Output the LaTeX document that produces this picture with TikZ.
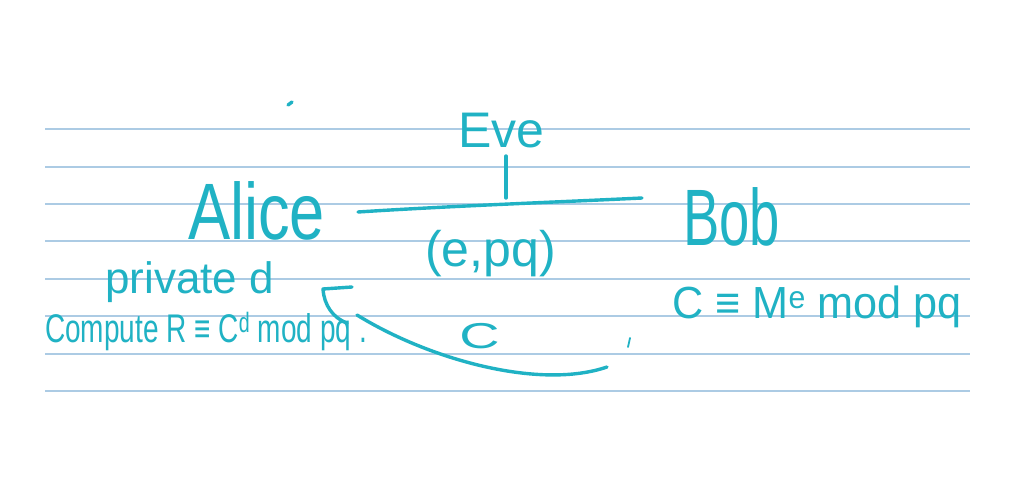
\documentclass[tikz,border=0pt]{standalone}
\usepackage{fontspec}
\setmainfont{Liberation Sans}
\definecolor{ink}{RGB}{32,178,196}
\definecolor{rule}{RGB}{172,203,228}
\begin{document}
\begin{tikzpicture}[x=1pt,y=-1pt,
  ruleline/.style={draw=rule,line width=1.3pt},
  pen/.style={draw=ink,line width=3.4pt,line cap=round,line join=round},
  txt/.style={text=ink,inner sep=0pt,anchor=base west}]
\useasboundingbox (0,0) rectangle (1013,492);
\fill[white] (0,0) rectangle (1013,492);
% ruled paper
\foreach \y in {129,167,204,241,279,316,354,391}
  \draw[ruleline] (45,\y) -- (970,\y);
% stray dot
\draw[pen] (288,105) -- (292,102);
% names
\node[txt,font=\fontsize{50}{60}\selectfont] (eve) at (458,148) {Eve};
\node[txt,font=\fontsize{80}{96}\selectfont,xscale=0.79] (alice) at (188,240) {Alice};
\node[txt,font=\fontsize{80}{96}\selectfont,xscale=0.68] (bob) at (683,245) {Bob};
% channel
\coordinate (chL) at (358,212);
\coordinate (chR) at (642,198);
\coordinate (tapT) at (506,156);
\coordinate (tapB) at (506,198);
\draw[pen] (chL) .. controls (450,206) and (560,202) .. (chR);
\draw[pen] (tapT) -- (tapB);
\node[txt,font=\fontsize{50}{60}\selectfont] (pub) at (425,266) {(e,pq)};
% Alice side
\node[txt,font=\fontsize{44}{52}\selectfont] (priv) at (105,293) {private d};
\node[txt,font=\fontsize{40}{48}\selectfont,xscale=0.7] (comp) at (45,342) {Compute R ≡ C\textsuperscript{d} mod pq .};
% Bob side
\node[txt,font=\fontsize{45}{54}\selectfont,xscale=0.96] (enc) at (672,318) {C ≡ M\textsuperscript{e} mod pq};
% ciphertext return arc with hook
\coordinate (hookA) at (352,287);
\coordinate (hookB) at (323,289);
\coordinate (hookC) at (347,323);
\coordinate (arcS) at (357,315);
\coordinate (arcE) at (607,367);
\draw[pen] (hookA) -- (hookB) .. controls (324,305) and (333,318) .. (hookC);
\draw[pen] (arcS) .. controls (430,360) and (540,390) .. (arcE);
\node[txt,font=\fontsize{36}{44}\selectfont,xscale=1.55] (c) at (459,348) {C};
\coordinate (tickT) at (630,338);
\coordinate (tickB) at (628,347);
\draw[pen,line width=1.8pt] (tickT) -- (tickB);
\end{tikzpicture}
\end{document}
